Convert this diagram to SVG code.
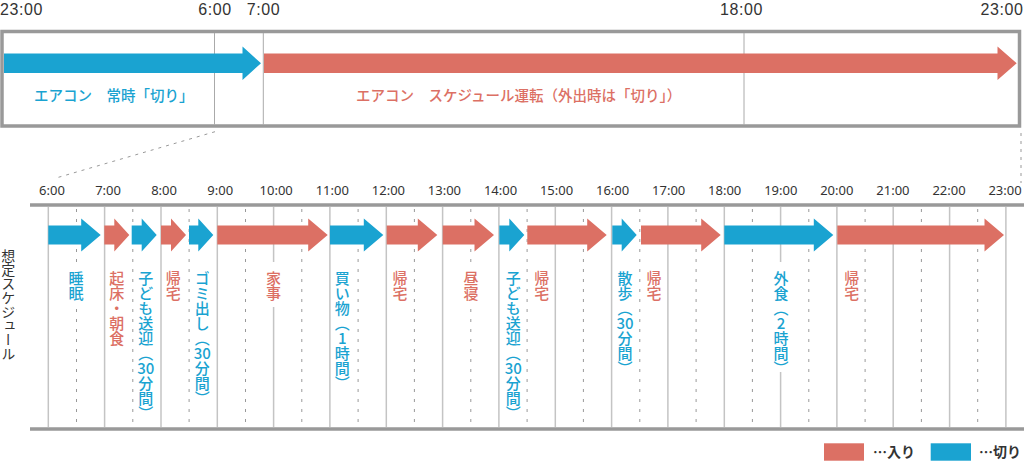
<svg xmlns="http://www.w3.org/2000/svg" width="1024" height="461" viewBox="0 0 1024 461">
<style>
.t{font-family:"Noto Sans","Liberation Sans",sans-serif;fill:#333}
.tt{font-family:"Liberation Sans",Arial,sans-serif;font-size:16px;letter-spacing:0.6px}
.lt{font-size:13px;text-anchor:middle}
.jp{font-family:"Noto Sans CJK JP","Noto Sans",sans-serif}
.v{font-family:"Noto Sans CJK JP",sans-serif;writing-mode:vertical-rl;font-size:15px;font-weight:500}
.d{font-family:"Noto Sans CJK JP",sans-serif;font-size:15px;font-weight:500;text-anchor:middle}
.b{fill:#1aa3d1}
.r{fill:#dc7064}
.hl{stroke:#c4c4c4;stroke-width:1.5;fill:none}
.il{stroke:#aaa;stroke-width:1;fill:none}
.dl{stroke:#999;stroke-width:1;stroke-dasharray:3 7;fill:none}
.frame{stroke:#999;stroke-width:3.5;fill:none}
.bg{fill:#fff}
</style>

<g id="top-timeline">
  <rect class="frame" x="2" y="31.5" width="1017.5" height="94.5"/>
  <line class="il" x1="214.5" y1="33" x2="214.5" y2="125"/>
  <line class="il" x1="263.3" y1="33" x2="263.3" y2="125"/>
  <line class="il" x1="744" y1="33" x2="744" y2="125"/>
  <text class="t tt" x="0" y="14.8">23:00</text>
  <text class="t tt" x="215" y="14.8" text-anchor="middle">6:00</text>
  <text class="t tt" x="263.5" y="14.8" text-anchor="middle">7:00</text>
  <text class="t tt" x="741.5" y="14.8" text-anchor="middle">18:00</text>
  <text class="t tt" x="1023.5" y="14.8" text-anchor="end">23:00</text>
</g>

<g id="top-off">
  <polygon class="b" points="4,53.6 242.5,53.6 242.5,46.6 261,63.3 242.5,80 242.5,73 4,73"/>
  <text class="jp b" x="34" y="101" font-size="14.5" font-weight="500">エアコン　常時「切り」</text>
</g>

<g id="top-schedule">
  <polygon class="r" points="264,53.6 997.5,53.6 997.5,46.6 1016.7,63.3 997.5,80 997.5,73 264,73"/>
  <text class="jp r" x="356" y="101" font-size="14.5" font-weight="500">エアコン　スケジュール運転（外出時は「切り」）</text>
</g>

<g id="connectors">
  <line x1="215" y1="131.7" x2="55" y2="178.3" stroke="#999" stroke-width="1" stroke-dasharray="3 5"/>
  <line x1="1021" y1="133" x2="1021" y2="183" stroke="#999" stroke-width="1" stroke-dasharray="3 5"/>
</g>

<g id="schedule-grid">
  <line x1="30" y1="205" x2="1024" y2="205" stroke="#999" stroke-width="3.5"/>
  <line x1="30" y1="429" x2="1024" y2="429" stroke="#999" stroke-width="3.5"/>
  <g>
    <line class="hl" x1="48.3" y1="207" x2="48.3" y2="427"/>
    <line class="hl" x1="104.6" y1="207" x2="104.6" y2="427"/>
    <line class="hl" x1="161" y1="207" x2="161" y2="427"/>
    <line class="hl" x1="217.3" y1="207" x2="217.3" y2="427"/>
    <line class="hl" x1="273.6" y1="207" x2="273.6" y2="427"/>
    <line class="hl" x1="329.9" y1="207" x2="329.9" y2="427"/>
    <line class="hl" x1="386.3" y1="207" x2="386.3" y2="427"/>
    <line class="hl" x1="442.6" y1="207" x2="442.6" y2="427"/>
    <line class="hl" x1="498.9" y1="207" x2="498.9" y2="427"/>
    <line class="hl" x1="555.3" y1="207" x2="555.3" y2="427"/>
    <line class="hl" x1="611.6" y1="207" x2="611.6" y2="427"/>
    <line class="hl" x1="667.9" y1="207" x2="667.9" y2="427"/>
    <line class="hl" x1="724.3" y1="207" x2="724.3" y2="427"/>
    <line class="hl" x1="780.6" y1="207" x2="780.6" y2="427"/>
    <line class="hl" x1="836.9" y1="207" x2="836.9" y2="427"/>
    <line class="hl" x1="893.2" y1="207" x2="893.2" y2="427"/>
    <line class="hl" x1="949.6" y1="207" x2="949.6" y2="427"/>
    <line class="hl" x1="1005.9" y1="207" x2="1005.9" y2="427"/>
  </g>
  <g>
    <line class="dl" x1="76.5" y1="209" x2="76.5" y2="427"/>
    <line class="dl" x1="132.8" y1="209" x2="132.8" y2="427"/>
    <line class="dl" x1="189.1" y1="209" x2="189.1" y2="427"/>
    <line class="dl" x1="245.5" y1="209" x2="245.5" y2="427"/>
    <line class="dl" x1="301.8" y1="209" x2="301.8" y2="427"/>
    <line class="dl" x1="358.1" y1="209" x2="358.1" y2="427"/>
    <line class="dl" x1="414.4" y1="209" x2="414.4" y2="427"/>
    <line class="dl" x1="470.8" y1="209" x2="470.8" y2="427"/>
    <line class="dl" x1="527.1" y1="209" x2="527.1" y2="427"/>
    <line class="dl" x1="583.4" y1="209" x2="583.4" y2="427"/>
    <line class="dl" x1="639.8" y1="209" x2="639.8" y2="427"/>
    <line class="dl" x1="696.1" y1="209" x2="696.1" y2="427"/>
    <line class="dl" x1="752.4" y1="209" x2="752.4" y2="427"/>
    <line class="dl" x1="808.8" y1="209" x2="808.8" y2="427"/>
    <line class="dl" x1="865.1" y1="209" x2="865.1" y2="427"/>
    <line class="dl" x1="921.4" y1="209" x2="921.4" y2="427"/>
    <line class="dl" x1="977.7" y1="209" x2="977.7" y2="427"/>
  </g>
  <g>
    <text class="t lt" x="52" y="195">6:00</text>
    <text class="t lt" x="108.1" y="195">7:00</text>
    <text class="t lt" x="164.1" y="195">8:00</text>
    <text class="t lt" x="220.2" y="195">9:00</text>
    <text class="t lt" x="276.2" y="195">10:00</text>
    <text class="t lt" x="332.3" y="195">11:00</text>
    <text class="t lt" x="388.4" y="195">12:00</text>
    <text class="t lt" x="444.4" y="195">13:00</text>
    <text class="t lt" x="500.5" y="195">14:00</text>
    <text class="t lt" x="556.5" y="195">15:00</text>
    <text class="t lt" x="612.6" y="195">16:00</text>
    <text class="t lt" x="668.7" y="195">17:00</text>
    <text class="t lt" x="724.7" y="195">18:00</text>
    <text class="t lt" x="780.8" y="195">19:00</text>
    <text class="t lt" x="836.8" y="195">20:00</text>
    <text class="t lt" x="892.9" y="195">21:00</text>
    <text class="t lt" x="949" y="195">22:00</text>
    <text class="t lt" x="1005" y="195">23:00</text>
  </g>
  <text class="t" x="8.3" y="249" style="font-family:'Noto Sans CJK JP',sans-serif;writing-mode:vertical-rl;font-size:14px">想定スケジュール</text>
</g>

<g id="act-01">
  <polygon class="b" points="48.3,225.5 81.2,225.5 81.2,218.5 100.7,235 81.2,251.5 81.2,244.5 48.3,244.5"/>
  <rect class="bg" x="68" y="262" width="17" height="45"/>
  <text class="v b" x="76" y="271">睡眠</text>
</g>
<g id="act-02">
  <polygon class="r" points="104.3,225.5 114.3,225.5 114.3,218.5 129.3,235 114.3,251.5 114.3,244.5 104.3,244.5"/>
  <text class="v r" x="116.7" y="271">起床・朝食</text>
</g>
<g id="act-03">
  <polygon class="b" points="131.7,225.5 141.7,225.5 141.7,218.5 156.7,235 141.7,251.5 141.7,244.5 131.7,244.5"/>
  <text class="v b" x="145.7" y="271">子ども送迎（</text>
  <text class="d b" x="145.7" y="374">30</text>
  <text class="v b" x="145.7" y="376">分間）</text>
</g>
<g id="act-04">
  <polygon class="r" points="161,225.5 171,225.5 171,218.5 186,235 171,251.5 171,244.5 161,244.5"/>
  <text class="v r" x="173.3" y="271">帰宅</text>
</g>
<g id="act-05">
  <polygon class="b" points="189,225.5 198.3,225.5 198.3,218.5 213.3,235 198.3,251.5 198.3,244.5 189,244.5"/>
  <text class="v b" x="202.3" y="271">ゴミ出し（</text>
  <text class="d b" x="202.3" y="359">30</text>
  <text class="v b" x="202.3" y="361">分間）</text>
</g>
<g id="act-06">
  <polygon class="r" points="217.3,225.5 308.2,225.5 308.2,218.5 327.7,235 308.2,251.5 308.2,244.5 217.3,244.5"/>
  <rect class="bg" x="265" y="262" width="17" height="45"/>
  <text class="v r" x="273.6" y="271">家事</text>
</g>
<g id="act-07">
  <polygon class="b" points="330,225.5 363.8,225.5 363.8,218.5 383.3,235 363.8,251.5 363.8,244.5 330,244.5"/>
  <text class="v b" x="342.3" y="271">買い物（</text>
  <text class="d b" x="342.3" y="344">1</text>
  <text class="v b" x="342.3" y="346">時間）</text>
</g>
<g id="act-08">
  <polygon class="r" points="386.7,225.5 417.8,225.5 417.8,218.5 437.3,235 417.8,251.5 417.8,244.5 386.7,244.5"/>
  <text class="v r" x="400" y="271">帰宅</text>
</g>
<g id="act-09">
  <polygon class="r" points="442.7,225.5 474.5,225.5 474.5,218.5 494,235 474.5,251.5 474.5,244.5 442.7,244.5"/>
  <rect class="bg" x="462" y="262" width="18" height="45"/>
  <text class="v r" x="471" y="271">昼寝</text>
</g>
<g id="act-10">
  <polygon class="b" points="499.3,225.5 509.3,225.5 509.3,218.5 524.3,235 509.3,251.5 509.3,244.5 499.3,244.5"/>
  <text class="v b" x="513.3" y="271">子ども送迎（</text>
  <text class="d b" x="513.3" y="374">30</text>
  <text class="v b" x="513.3" y="376">分間）</text>
</g>
<g id="act-11">
  <polygon class="r" points="527.3,225.5 587.2,225.5 587.2,218.5 606.7,235 587.2,251.5 587.2,244.5 527.3,244.5"/>
  <text class="v r" x="541.7" y="271">帰宅</text>
</g>
<g id="act-12">
  <polygon class="b" points="612.3,225.5 621.7,225.5 621.7,218.5 636.7,235 621.7,251.5 621.7,244.5 612.3,244.5"/>
  <text class="v b" x="625" y="271">散歩（</text>
  <text class="d b" x="625" y="329">30</text>
  <text class="v b" x="625" y="331">分間）</text>
</g>
<g id="act-13">
  <polygon class="r" points="641,225.5 701.2,225.5 701.2,218.5 720.7,235 701.2,251.5 701.2,244.5 641,244.5"/>
  <text class="v r" x="654" y="271">帰宅</text>
</g>
<g id="act-14">
  <polygon class="b" points="724.3,225.5 813.8,225.5 813.8,218.5 833.3,235 813.8,251.5 813.8,244.5 724.3,244.5"/>
  <rect class="bg" x="772" y="262" width="18" height="110"/>
  <text class="v b" x="781" y="271">外食（</text>
  <text class="d b" x="781" y="329">2</text>
  <text class="v b" x="781" y="331">時間）</text>
</g>
<g id="act-15">
  <polygon class="r" points="837.3,225.5 984.5,225.5 984.5,218.5 1004,235 984.5,251.5 984.5,244.5 837.3,244.5"/>
  <text class="v r" x="851.7" y="271">帰宅</text>
</g>

<g id="legend">
  <rect class="r" x="824" y="443.3" width="40" height="17.4"/>
  <text class="jp" x="873" y="457" font-size="14" font-weight="700" fill="#333">…入り</text>
  <rect class="b" x="930.7" y="443.3" width="40.3" height="17.4"/>
  <text class="jp" x="979" y="457" font-size="14" font-weight="700" fill="#333">…切り</text>
</g>
</svg>
